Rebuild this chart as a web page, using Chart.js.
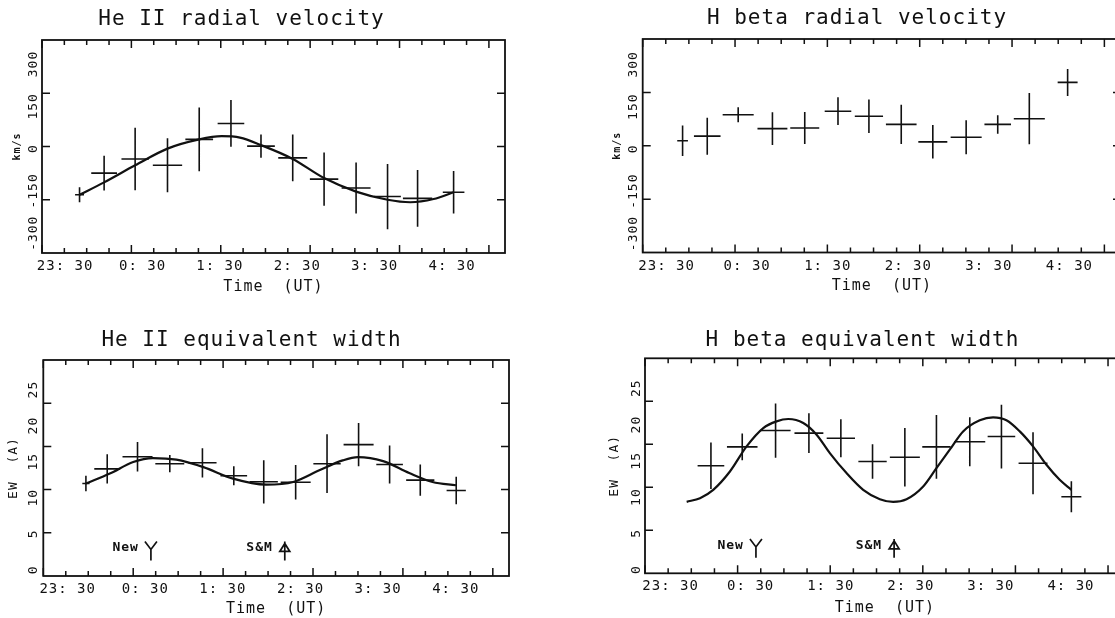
<!DOCTYPE html>
<html>
<head>
<meta charset="utf-8">
<script src="https://cdn.jsdelivr.net/npm/chart.js@4.4.1/dist/chart.umd.min.js"></script>
<style>
  html, body { margin: 0; padding: 0; background: #fff; overflow: hidden; }
  body { width: 1115px; height: 618px; position: relative; }
  canvas { position: absolute; }
</style>
</head>
<body>
<canvas id="heRv"></canvas>
<canvas id="hbRv"></canvas>
<canvas id="heEw"></canvas>
<canvas id="hbEw"></canvas>
<script>
// times are hours UT, 23:30 of the previous day = -0.5
const timeLabels = ["23: 30", "0: 30", "1: 30", "2: 30", "3: 30", "4: 30"];
const rvLabels = ["-300", "-150", "0", "150", "300"];
const ewLabels = ["0", "5", "10", "15", "20", "25"];

// He II radial velocity
const heRvTime = [-0.08, 0.195, 0.542, 0.904, 1.259, 1.614, 1.95, 2.305, 2.656, 3.014, 3.366, 3.702, 4.105];
const heRvValue = [-136, -75, -35, -53, 20, 65, 1, -32, -92, -117, -141, -146, -129];
const heRvTimeErr = [0.05, 0.144, 0.153, 0.164, 0.155, 0.149, 0.155, 0.162, 0.159, 0.162, 0.149, 0.164, 0.121];
const heRvValueErr = [21, 49, 88, 76, 90, 66, 33, 66, 75, 72, 92, 80, 60];
const heRvFitTime = [-0.08, 0.195, 0.542, 0.904, 1.259, 1.51, 1.715, 1.95, 2.305, 2.656, 3.014, 3.366, 3.62, 3.881, 4.105];
const heRvFit = [-136, -101, -53, -6, 20, 29, 25, 4, -35, -89, -127, -150, -157, -148, -129];

// H beta radial velocity
const hbRvTime = [-0.068, 0.199, 0.534, 0.905, 1.255, 1.615, 1.95, 2.3, 2.642, 3.003, 3.345, 3.687, 4.102];
const hbRvValue = [14, 27, 87, 48, 50, 97, 83, 60, 11, 24, 60, 76, 178];
const hbRvTimeErr = [0.058, 0.144, 0.168, 0.162, 0.157, 0.144, 0.153, 0.166, 0.157, 0.168, 0.144, 0.168, 0.108];
const hbRvValueErr = [43, 52, 21, 46, 45, 39, 47, 55, 47, 48, 26, 72, 38];

// He II equivalent width
const heEwTime = [-0.026, 0.211, 0.548, 0.907, 1.27, 1.619, 1.952, 2.307, 2.656, 3.007, 3.352, 3.693, 4.093];
const heEwValue = [10.7, 12.4, 13.8, 13.0, 13.1, 11.6, 10.9, 10.85, 13.0, 15.2, 12.9, 11.1, 9.9];
const heEwTimeErr = [0.04, 0.144, 0.167, 0.161, 0.157, 0.148, 0.157, 0.167, 0.152, 0.167, 0.148, 0.157, 0.107];
const heEwValueErr = [0.9, 1.7, 1.7, 1.0, 1.7, 1.1, 2.5, 2.0, 3.4, 2.5, 2.2, 1.8, 1.6];
const heEwFitTime = [-0.026, 0.24, 0.5, 0.72, 0.98, 1.28, 1.61, 1.98, 2.28, 2.57, 2.83, 3.0, 3.28, 3.57, 3.83, 4.09];
const heEwFit = [10.7, 11.85, 13.2, 13.65, 13.46, 12.6, 11.27, 10.58, 10.88, 12.23, 13.38, 13.77, 13.3, 11.92, 10.88, 10.5];

// H beta equivalent width
const hbEwTime = [0.212, 0.55, 0.91, 1.27, 1.615, 1.957, 2.306, 2.647, 3.007, 3.349, 3.69, 4.104];
const hbEwValue = [12.5, 14.7, 16.6, 16.3, 15.7, 13.0, 13.5, 14.7, 15.3, 15.9, 12.8, 8.9];
const hbEwTimeErr = [0.144, 0.165, 0.162, 0.156, 0.153, 0.153, 0.162, 0.153, 0.167, 0.149, 0.156, 0.108];
const hbEwValueErr = [2.7, 1.55, 3.15, 2.3, 2.2, 2.0, 3.4, 3.7, 2.85, 3.7, 3.6, 1.8];
const hbEwFitTime = [-0.05, 0.094, 0.237, 0.417, 0.597, 0.777, 0.921, 1.047, 1.209, 1.353, 1.496, 1.676, 1.856, 2.036,
  2.18, 2.324, 2.504, 2.647, 2.791, 2.935, 3.115, 3.259, 3.403, 3.547, 3.69, 3.835, 3.978, 4.104];
const hbEwFit = [8.31, 8.74, 9.71, 11.84, 14.76, 16.89, 17.67, 17.94, 17.48, 16.12, 13.98, 11.65, 9.71, 8.62,
  8.31, 8.62, 10.1, 12.23, 14.37, 16.5, 17.79, 18.14, 17.79, 16.5, 14.76, 12.62, 10.87, 9.71];

// phase markers on the EW plots
const markerNames = ["New", "S&M"];
const markerKinds = ["fork", "head"];
const heEwMarkerTimes = [0.697, 2.186];
const hbEwMarkerTimes = [0.698, 2.19];
const markerTextLevel = 3.25;
const markerArrowTop = 4.0;
const markerArrowBottom = 1.8;

const FONT = "'DejaVu Sans Mono', 'Liberation Mono', monospace";
const SPACING = "1px";
const INK = "#111";
Chart.defaults.font.family = FONT;
Chart.defaults.color = INK;

function measure(text, font) {
  const ctx = document.createElement("canvas").getContext("2d");
  ctx.font = font;
  ctx.letterSpacing = SPACING;
  return ctx.measureText(text).width;
}

// each error cross = horizontal bar + vertical bar, split by gaps
function crossSegments(t, v, dt, dv) {
  const pts = [];
  t.forEach((x, i) => {
    pts.push({ x: x - dt[i], y: v[i] }, { x: x + dt[i], y: v[i] }, { x: x, y: null },
             { x: x, y: v[i] - dv[i] }, { x: x, y: v[i] + dv[i] }, { x: x, y: null });
  });
  return pts;
}

function makeDecor(p) {
  return {
    id: "decor",
    beforeLayout(chart) { chart.ctx.letterSpacing = SPACING; },
    beforeDraw(chart) { chart.ctx.letterSpacing = SPACING; },
    afterDraw(chart) {
      const { ctx, chartArea: a, scales: { x, y } } = chart;
      ctx.save();
      ctx.strokeStyle = INK;
      ctx.fillStyle = INK;
      ctx.lineWidth = 1.8;
      ctx.strokeRect(a.left, a.top, a.right - a.left, a.bottom - a.top);

      // inward ticks: 15 min minor, hourly major
      ctx.lineWidth = 1.5;
      ctx.beginPath();
      for (let k = 0; x.min + k * 0.25 <= x.max + 1e-9; k++) {
        const px = x.getPixelForValue(x.min + k * 0.25);
        const len = k % 4 === 0 ? 8 : 5;
        ctx.moveTo(px, a.top); ctx.lineTo(px, a.top + len);
        ctx.moveTo(px, a.bottom); ctx.lineTo(px, a.bottom - len);
      }
      for (let v = y.min + p.yStep; v < y.max - 1e-9; v += p.yStep) {
        const py = y.getPixelForValue(v);
        ctx.moveTo(a.left, py); ctx.lineTo(a.left + 8, py);
        ctx.moveTo(a.right, py); ctx.lineTo(a.right - 8, py);
      }
      ctx.stroke();

      if (p.markerTimes) {
        ctx.font = "bold 13px " + FONT;
        ctx.textAlign = "right";
        ctx.textBaseline = "middle";
        ctx.lineWidth = 1.7;
        p.markerTimes.forEach((t, i) => {
          const mx = x.getPixelForValue(t);
          const top = y.getPixelForValue(markerArrowTop);
          const bot = y.getPixelForValue(markerArrowBottom);
          ctx.fillText(markerNames[i], mx - 12, y.getPixelForValue(markerTextLevel));
          ctx.beginPath();
          if (markerKinds[i] === "fork") {
            ctx.moveTo(mx - 6, top); ctx.lineTo(mx, top + 8); ctx.lineTo(mx + 6, top);
            ctx.moveTo(mx, top + 8); ctx.lineTo(mx, bot);
          } else {
            ctx.moveTo(mx, top); ctx.lineTo(mx, bot);
            ctx.moveTo(mx, top + 2); ctx.lineTo(mx - 5, top + 10); ctx.lineTo(mx + 5, top + 10); ctx.closePath();
          }
          ctx.stroke();
        });
      }
      ctx.restore();
    }
  };
}

const panels = [
  {
    id: "heRv", title: "He II radial velocity", yTitle: "km/s", yTitleFont: { size: 10, weight: "bold" },
    frame: { l: 42, r: 505, t: 40, b: 253 }, left: -25, titleX: 241.7, titleY: 20, xTitleY: 287.5,
    yLabelX: 33.3, yTitleX: 17.2, yMin: -300, yMax: 300, yStep: 150, yLabels: rvLabels,
    yLabelRange: [-0.468, 4.567], xLabelRange: [-0.299, 5.684],
    points: [heRvTime, heRvValue, heRvTimeErr, heRvValueErr], fit: [heRvFitTime, heRvFit], markerTimes: null
  },
  {
    id: "hbRv", title: "H beta radial velocity", yTitle: "km/s", yTitleFont: { size: 10, weight: "bold" },
    frame: { l: 642.7, r: 1121, t: 39, b: 252.5 }, left: 590, titleX: 857, titleY: 19, xTitleY: 286.5,
    yLabelX: 634, yTitleX: 617.5, yMin: -300, yMax: 300, yStep: 150, yLabels: rvLabels,
    yLabelRange: [-0.45, 4.6], xLabelRange: [-0.297, 5.64],
    points: [hbRvTime, hbRvValue, hbRvTimeErr, hbRvValueErr], fit: null, markerTimes: null
  },
  {
    id: "heEw", title: "He II equivalent width", yTitle: "EW  (A)", yTitleFont: { size: 13, weight: "normal" },
    frame: { l: 43.3, r: 509, t: 360, b: 576 }, left: -9, titleX: 251.7, titleY: 341, xTitleY: 609,
    yLabelX: 34, yTitleX: 13.3, yMin: 0, yMax: 25, yStep: 5, yLabels: ewLabels,
    yLabelRange: [-0.172, 5.82], xLabelRange: [-0.314, 5.686],
    points: [heEwTime, heEwValue, heEwTimeErr, heEwValueErr], fit: [heEwFitTime, heEwFit], markerTimes: heEwMarkerTimes
  },
  {
    id: "hbEw", title: "H beta equivalent width", yTitle: "EW  (A)", yTitleFont: { size: 13, weight: "normal" },
    frame: { l: 645, r: 1124.7, t: 358.3, b: 573.3 }, left: 597, titleX: 862.5, titleY: 340.5, xTitleY: 608,
    yLabelX: 636.7, yTitleX: 615, yMin: 0, yMax: 25, yStep: 5, yLabels: ewLabels,
    yLabelRange: [-0.1, 5.826], xLabelRange: [-0.32, 5.671],
    points: [hbEwTime, hbEwValue, hbEwTimeErr, hbEwValueErr], fit: [hbEwFitTime, hbEwFit], markerTimes: hbEwMarkerTimes
  }
];

function build(p) {
  const f = p.frame;
  const cx = p.left;
  const cy = Math.round(p.titleY - 12.6);
  const cw = Math.round(2 * (p.titleX - cx));
  const ch = Math.ceil(p.xTitleY + 10 - cy);
  const rightGap = cx + cw - f.r;
  const leftW = f.l - cx;
  const bottomH = cy + ch - f.b;

  const canvas = document.getElementById(p.id);
  canvas.width = cw;
  canvas.height = ch;
  canvas.style.left = cx + "px";
  canvas.style.top = cy + "px";

  const tickSize = 13;
  const widest = Math.max(...p.yLabels.map(s => measure(s, tickSize + "px " + FONT)));
  const yTitleLh = p.yTitleFont.size * 1.2;

  const datasets = [{
    data: crossSegments(...p.points),
    borderColor: INK, borderWidth: 1.6, pointRadius: 0, spanGaps: false, tension: 0
  }];
  if (p.fit) {
    datasets.push({
      data: p.fit[0].map((t, i) => ({ x: t, y: p.fit[1][i] })),
      borderColor: INK, borderWidth: 2.2, pointRadius: 0, cubicInterpolationMode: "monotone"
    });
  }

  new Chart(canvas, {
    type: "line",
    data: { datasets: datasets },
    options: {
      responsive: false,
      animation: false,
      events: [],
      layout: { padding: 0 },
      plugins: {
        legend: { display: false },
        tooltip: { enabled: false },
        title: {
          display: true,
          text: p.title,
          color: INK,
          font: { size: 21, weight: "normal" },
          padding: { top: 0, bottom: f.t - cy - 25.2 },
        },
      },
      scales: {
        x: { type: "linear", display: false, min: -0.5, max: 4.68 },
        y: { type: "linear", display: false, min: p.yMin, max: p.yMax },
        xl: {
          type: "linear",
          position: "bottom",
          min: p.xLabelRange[0],
          max: p.xLabelRange[1],
          grid: { display: false, drawTicks: false },
          border: { display: false },
          afterBuildTicks: s => { s.ticks = timeLabels.map((_, i) => ({ value: i })); },
          ticks: {
            autoSkip: false, minRotation: 0, maxRotation: 0, padding: 5,
            font: { size: 14 }, color: INK,
            callback: v => timeLabels[v],
          },
          title: {
            display: true, text: "Time  (UT)", color: INK, font: { size: 15 },
            padding: { top: 0, bottom: cy + ch - p.xTitleY - 9 },
          },
          afterFit: s => { s.height = bottomH; },
        },
        yl: {
          type: "linear",
          position: "left",
          min: p.yLabelRange[0],
          max: p.yLabelRange[1],
          grid: { display: false, drawTicks: false },
          border: { display: false },
          afterBuildTicks: s => { s.ticks = p.yLabels.map((_, i) => ({ value: i })); },
          ticks: {
            autoSkip: false, minRotation: 90, maxRotation: 90, crossAlign: "center",
            padding: f.l - p.yLabelX - widest / 2,
            font: { size: tickSize }, color: INK,
            callback: v => p.yLabels[v],
          },
          title: {
            display: true, text: p.yTitle, color: INK, font: p.yTitleFont,
            padding: { top: p.yTitleX - cx - yTitleLh / 2, bottom: 0 },
          },
          afterFit: s => { s.width = leftW; },
        },
        ys: {
          type: "linear",
          position: "right",
          grid: { display: false, drawTicks: false },
          border: { display: false },
          ticks: { display: false },
          afterFit: s => { s.width = rightGap; },
        },
      },
    },
    plugins: [makeDecor(p)],
  });
}

panels.forEach(build);
</script>
</body>
</html>
